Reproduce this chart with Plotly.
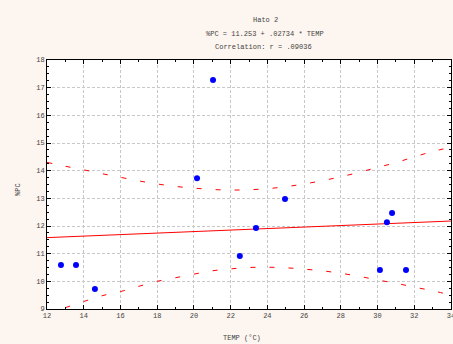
import plotly.graph_objects as go

# Data
temp = [12.76, 13.58, 14.61, 21.04, 20.17, 22.5, 23.38, 24.96, 30.13, 30.51, 30.79, 31.55]
pc = [10.59, 10.59, 9.72, 17.28, 13.73, 10.92, 11.93, 12.98, 10.41, 12.14, 12.47, 10.41]

fit_x = [12, 34]
fit_y = [11.58, 12.18]

band_x = list(range(12, 35))
band_upper = [14.30, 14.16, 14.03, 13.89, 13.76, 13.63, 13.52, 13.43, 13.37, 13.32, 13.30, 13.31,
              13.35, 13.42, 13.52, 13.64, 13.78, 13.94, 14.12, 14.29, 14.50, 14.69, 14.85]
band_lower = [8.87, 9.05, 9.27, 9.48, 9.63, 9.82, 10.00, 10.13, 10.26, 10.38, 10.45, 10.50,
              10.51, 10.49, 10.44, 10.38, 10.29, 10.18, 10.05, 9.93, 9.79, 9.66, 9.50]

x_ticks = list(range(12, 35, 2))
y_ticks = list(range(9, 19))

FONT = "Liberation Mono"
W, H = 453, 344
L, R, T, B = 47, 2, 60, 35

fig = go.Figure()
for yb in (band_upper, band_lower):
    fig.add_trace(go.Scatter(x=band_x, y=yb, mode="lines", line_shape="spline",
                             line=dict(color="#ff0000", width=1, dash="5px,14px"),
                             hoverinfo="skip", showlegend=False))
fig.add_trace(go.Scatter(x=fit_x, y=fit_y, mode="lines",
                         line=dict(color="#ff0000", width=1), showlegend=False))
fig.add_trace(go.Scatter(x=temp, y=pc, mode="markers",
                         marker=dict(color="#0000ff", size=6), showlegend=False))

axis_common = dict(showline=True, linecolor="black", linewidth=1, mirror="ticks",
                   ticks="inside", ticklen=4, tickcolor="black", automargin=False,
                   ticklabeloverflow="allow",
                   showgrid=True, gridcolor="#c8c8c8", griddash="3px,2px", gridwidth=1,
                   zeroline=False, tickfont=dict(family=FONT, size=7, color="#444444"))

# pixel-positioned texts (x, y from top-left of the page)
texts = [
    ("Hato 2", 265, 20, 0),
    ("%PC = 11.253 + .02734 * TEMP", 265, 34, 0),
    ("Correlation: r = .09036", 263, 47, 0),
    ("TEMP (°C)", 242, 338, 0),
    ("%PC", 18, 190, -90),
]
pw, ph = W - L - R, H - T - B
anns = [dict(text=s, xref="paper", yref="paper", x=(px - L) / pw, y=(H - B - py) / ph,
             xanchor="center", yanchor="middle", showarrow=False, textangle=ang,
             font=dict(family=FONT, size=7, color="#444444"))
        for s, px, py, ang in texts]

fig.update_layout(
    width=W, height=H,
    margin=dict(l=L, r=R, t=T, b=B, autoexpand=False),
    paper_bgcolor="#fdf5ef", plot_bgcolor="white",
    xaxis=dict(range=[12, 34], tickvals=x_ticks, ticktext=[str(v) for v in x_ticks],
               minor=dict(dtick=1, ticks="inside", ticklen=2, tickcolor="black", showgrid=False),
               **axis_common),
    yaxis=dict(range=[9, 18], tickvals=y_ticks, ticktext=[str(v) for v in y_ticks],
               minor=dict(dtick=0.25, ticks="inside", ticklen=2, tickcolor="black", showgrid=False),
               **axis_common),
    annotations=anns,
)

fig.write_html("out.html", config={"displayModeBar": False},
               post_script="document.body.style.margin='0';document.body.style.overflow='hidden';")
